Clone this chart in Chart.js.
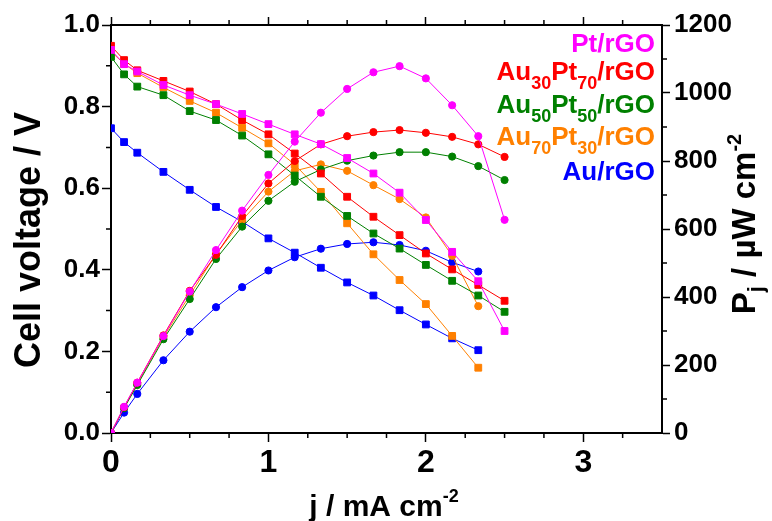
<html>
<head>
<script src="https://cdn.jsdelivr.net/npm/chart.js@4.4.0/dist/chart.umd.min.js"></script>
<style>
  body { margin: 0; background: #fff; }
</style>
</head>
<body>
<canvas id="fuelChart" width="772" height="521"></canvas>

<script>
  // current density, mA cm-2
  var jLong = [0, 0.083, 0.167, 0.333, 0.5, 0.667, 0.833, 1.0, 1.167, 1.333, 1.5, 1.667, 1.833, 2.0, 2.167, 2.333, 2.5];
  var jShort = [0, 0.083, 0.167, 0.333, 0.5, 0.667, 0.833, 1.0, 1.167, 1.333, 1.5, 1.667, 1.833, 2.0, 2.167, 2.333];

  // cell voltage, V
  var vPt = [0.939, 0.904, 0.886, 0.853, 0.828, 0.806, 0.782, 0.757, 0.732, 0.708, 0.674, 0.636, 0.589, 0.522, 0.444, 0.372, 0.250];
  var vAu30 = [0.949, 0.914, 0.889, 0.863, 0.837, 0.806, 0.767, 0.732, 0.685, 0.636, 0.579, 0.530, 0.485, 0.440, 0.401, 0.363, 0.324];
  var vAu50 = [0.922, 0.879, 0.849, 0.828, 0.789, 0.767, 0.729, 0.683, 0.631, 0.579, 0.532, 0.489, 0.452, 0.412, 0.373, 0.337, 0.297];
  var vAu70 = [0.935, 0.905, 0.882, 0.847, 0.814, 0.785, 0.748, 0.710, 0.658, 0.591, 0.514, 0.438, 0.375, 0.316, 0.238, 0.160];
  var vAu = [0.747, 0.713, 0.687, 0.640, 0.596, 0.554, 0.518, 0.477, 0.442, 0.405, 0.369, 0.337, 0.301, 0.266, 0.232, 0.203];

  // power density, uW cm-2
  var pPt = [0, 77, 148, 285, 416, 538, 654, 759, 857, 942, 1012, 1061, 1079, 1043, 964, 873, 627];
  var pAu30 = [0, 76, 148, 287, 418, 524, 638, 734, 800, 849, 873, 885, 891, 883, 871, 849, 812];
  var pAu50 = [0, 73, 141, 276, 394, 512, 607, 683, 739, 775, 801, 816, 826, 826, 813, 785, 744];
  var pAu70 = [0, 75, 145, 282, 405, 526, 626, 710, 771, 790, 771, 729, 688, 634, 521, 373];
  var pAu = [0, 60, 115, 214, 298, 370, 429, 478, 517, 542, 556, 561, 553, 536, 502, 475];

  var xTicks = [0, 1, 2, 3];
  var vTicks = [0, 0.2, 0.4, 0.6, 0.8, 1.0];
  var pTicks = [0, 200, 400, 600, 800, 1000, 1200];

  var FONT = '"Liberation Sans", Arial, sans-serif';

  function pts(xs, ys) {
    return ys.map(function (y, i) { return { x: xs[i], y: y }; });
  }

  function series(data, color, axis, style) {
    return {
      data: data,
      yAxisID: axis,
      borderColor: color,
      backgroundColor: color,
      pointBackgroundColor: color,
      pointBorderColor: color,
      borderWidth: 1,
      pointStyle: style,
      pointRadius: style == 'rect' ? 4.8 : 3.6,
      pointBorderWidth: 1,
      tension: 0
    };
  }

  var datasets = [
    series(pts(jLong, vPt), '#ff00ff', 'y', 'rect'),
    series(pts(jLong, pPt), '#ff00ff', 'y2', 'circle'),
    series(pts(jLong, vAu30), '#ff0000', 'y', 'rect'),
    series(pts(jLong, pAu30), '#ff0000', 'y2', 'circle'),
    series(pts(jLong, vAu50), '#008000', 'y', 'rect'),
    series(pts(jLong, pAu50), '#008000', 'y2', 'circle'),
    series(pts(jShort, vAu70), '#ff8000', 'y', 'rect'),
    series(pts(jShort, pAu70), '#ff8000', 'y2', 'circle'),
    series(pts(jShort, vAu), '#0000ff', 'y', 'rect'),
    series(pts(jShort, pAu), '#0000ff', 'y2', 'circle')
  ];

  // legend entries: [text, size, dy]
  var legendRows = [
    { color: '#ff00ff', y: 52, parts: [['Pt/rGO', 26, 0]] },
    { color: '#ff0000', y: 80, parts: [['Au', 26, 0], ['30', 18, 9], ['Pt', 26, 0], ['70', 18, 9], ['/rGO', 26, 0]] },
    { color: '#008000', y: 113, parts: [['Au', 26, 0], ['50', 18, 9], ['Pt', 26, 0], ['50', 18, 9], ['/rGO', 26, 0]] },
    { color: '#ff8000', y: 145, parts: [['Au', 26, 0], ['70', 18, 9], ['Pt', 26, 0], ['30', 18, 9], ['/rGO', 26, 0]] },
    { color: '#0000ff', y: 180, parts: [['Au/rGO', 26, 0]] }
  ];

  function drawRich(ctx, x, y, parts, align, angle, color) {
    ctx.save();
    ctx.translate(x, y);
    ctx.rotate(angle);
    ctx.textBaseline = 'alphabetic';
    ctx.textAlign = 'left';
    var w = 0;
    parts.forEach(function (p) {
      ctx.font = 'bold ' + p[1] + 'px ' + FONT;
      w += ctx.measureText(p[0]).width;
    });
    var cx = align == 'right' ? -w : (align == 'center' ? -w / 2 : 0);
    ctx.fillStyle = color;
    parts.forEach(function (p) {
      ctx.font = 'bold ' + p[1] + 'px ' + FONT;
      ctx.fillText(p[0], cx, p[2]);
      cx += ctx.measureText(p[0]).width;
    });
    ctx.restore();
  }

  var extras = {
    id: 'extras',
    afterDraw: function (chart) {
      var ctx = chart.ctx;
      var a = chart.chartArea;
      var sx = chart.scales.x, sy = chart.scales.y, sp = chart.scales.y2;
      ctx.save();
      ctx.strokeStyle = '#000';
      ctx.lineWidth = 1.5;
      ctx.beginPath();
      // minor ticks
      for (var k = 1; k < 14; k++) {
        if (k % 4 == 0) continue;
        var px = sx.getPixelForValue(k * 0.25);
        ctx.moveTo(px, a.bottom); ctx.lineTo(px, a.bottom + 5);
        ctx.moveTo(px, a.top); ctx.lineTo(px, a.top - 5);
      }
      for (var m = 1; m < 10; m += 2) {
        var py = sy.getPixelForValue(m * 0.1);
        ctx.moveTo(a.left, py); ctx.lineTo(a.left - 5, py);
      }
      for (var n = 1; n < 12; n += 2) {
        var pq = sp.getPixelForValue(n * 100);
        ctx.moveTo(a.right, pq); ctx.lineTo(a.right + 5, pq);
      }
      ctx.stroke();
      ctx.restore();

      // axis titles
      drawRich(ctx, 40, 240, [['Cell voltage / V', 36, 0]], 'center', -Math.PI / 2, '#000');
      drawRich(ctx, 755, 224, [['P', 33, 0], ['j', 22, 8], [' / \u00b5W cm', 33, 0], ['-2', 20, -14]], 'center', -Math.PI / 2, '#000');
      drawRich(ctx, 384, 516, [['j / mA cm', 30, 0], ['-2', 18, -14]], 'center', 0, '#000');

      // legend
      legendRows.forEach(function (r) {
        drawRich(ctx, 655, r.y, r.parts, 'right', 0, r.color);
      });
    }
  };

  function fixW(w) { return function (s) { s.width = w; }; }
  function fixH(h) { return function (s) { s.height = h; }; }

  var ctx = document.getElementById('fuelChart').getContext('2d');
  var chart = new Chart(ctx, {
    type: 'line',
    data: { datasets: datasets },
    plugins: [extras],
    options: {
      responsive: false,
      animation: false,
      layout: { padding: 0 },
      plugins: { legend: { display: false }, tooltip: { enabled: false } },
      scales: {
        x: {
          type: 'linear', position: 'bottom', min: 0, max: 3.5,
          afterFit: fixH(88),
          afterBuildTicks: function (s) { s.ticks = xTicks.map(function (v) { return { value: v }; }); },
          grid: { drawOnChartArea: false, drawTicks: true, tickLength: 9, tickColor: '#000', tickWidth: 1.5 },
          border: { display: true, color: '#000', width: 2 },
          ticks: { color: '#000', font: { family: FONT, size: 32, weight: 'bold' }, padding: 2, maxRotation: 0 }
        },
        x2: {
          type: 'linear', position: 'top', min: 0, max: 3.5,
          afterFit: fixH(25),
          afterBuildTicks: function (s) { s.ticks = xTicks.map(function (v) { return { value: v }; }); },
          grid: { drawOnChartArea: false, drawTicks: true, tickLength: 8, tickColor: '#000', tickWidth: 1.5 },
          border: { display: true, color: '#000', width: 2 },
          ticks: { display: false }
        },
        y: {
          type: 'linear', position: 'left', min: 0, max: 1,
          afterFit: fixW(111),
          afterBuildTicks: function (s) { s.ticks = vTicks.map(function (v) { return { value: v }; }); },
          grid: { drawOnChartArea: false, drawTicks: true, tickLength: 9, tickColor: '#000', tickWidth: 1.5 },
          border: { display: true, color: '#000', width: 2 },
          ticks: {
            color: '#000', font: { family: FONT, size: 26, weight: 'bold' }, padding: 2,
            callback: function (v) { return v.toFixed(1); }
          }
        },
        y2: {
          type: 'linear', position: 'right', min: 0, max: 1200,
          afterFit: fixW(110),
          afterBuildTicks: function (s) { s.ticks = pTicks.map(function (v) { return { value: v }; }); },
          grid: { drawOnChartArea: false, drawTicks: true, tickLength: 8, tickColor: '#000', tickWidth: 1.5 },
          border: { display: true, color: '#000', width: 2 },
          ticks: {
            color: '#000', font: { family: FONT, size: 26, weight: 'bold' }, padding: 4,
            callback: function (v) { return String(v); }
          }
        }
      }
    }
  });
</script>
</body>
</html>
